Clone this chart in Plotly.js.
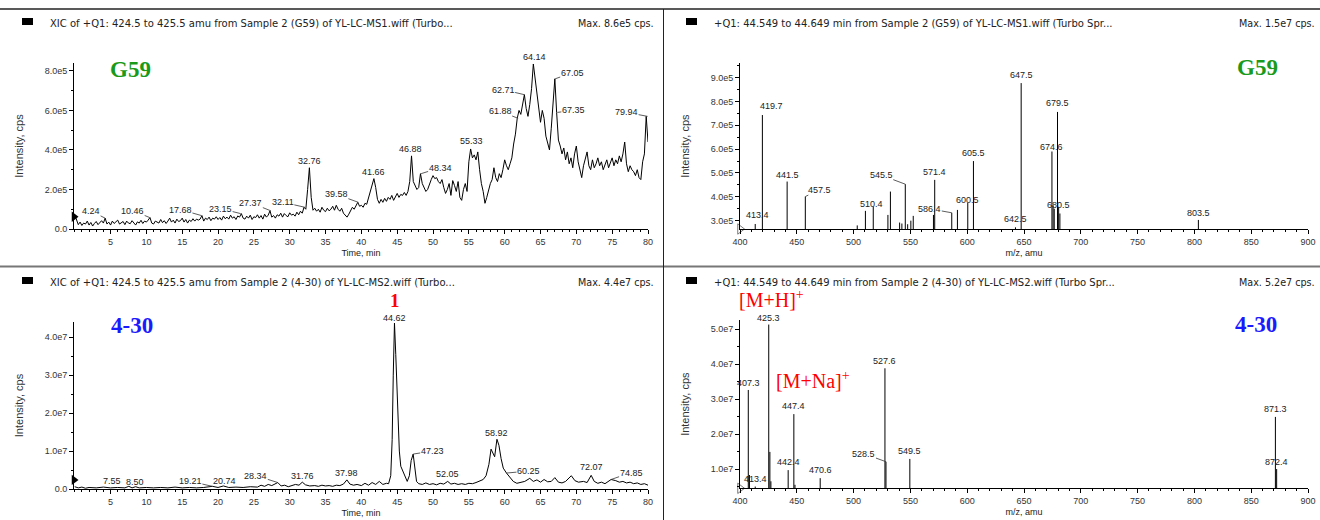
<!DOCTYPE html>
<html><head><meta charset="utf-8">
<script src="https://cdn.plot.ly/plotly-3.0.1.min.js"></script>
<style>html,body{margin:0;padding:0;background:#fff}#chart{width:1320px;height:520px}</style>
</head><body><div id="chart"></div>
<script>
// ================= DATA =================
// Top-left: XIC 424.5-425.5 amu, sample G59 (intensity x1e5 cps), sampled every 0.25 min from 0 min
const xicG59Start = 0;
const xicG59Step = 0.25;
const xicG59Intensity = [
 0.72,0.45,0.22,0.35, 0.18,0.3,0.25,0.4, 0.2,0.33,0.15,0.28, 0.38,0.22,0.3,0.42, 0.3,0.55,0.25,0.35,
 0.2,0.4,0.28,0.35, 0.45,0.25,0.3,0.38, 0.22,0.4,0.3,0.27, 0.42,0.33,0.2,0.36, 0.3,0.44,0.28,0.4,
 0.35,0.45,0.58,0.3, 0.25,0.4,0.35,0.3, 0.48,0.32,0.42,0.28, 0.4,0.55,0.35,0.45, 0.3,0.5,0.38,0.42,
 0.55,0.35,0.48,0.3, 0.45,0.38,0.52,0.4, 0.5,0.45,0.5,0.68, 0.4,0.55,0.48,0.6, 0.42,0.55,0.5,0.62,
 0.48,0.58,0.45,0.65, 0.52,0.6,0.5,0.7, 0.55,0.62,0.48,0.66, 0.6,0.78,0.55,0.5, 0.65,0.55,0.7,0.48,
 0.62,0.58,0.72,0.55, 0.68,0.5,0.75,0.6, 0.7,0.92,0.6,0.68, 0.55,0.72,0.65,0.8, 0.6,0.78,0.68,0.62,
 0.82,0.7,0.75,0.65, 0.85,0.72,0.9,0.8, 1.1,1.0,2.0,3.1, 1.6,0.95,1.05,0.9, 1.0,0.85,1.1,0.95,
 0.88,1.05,0.92,1.0, 1.15,0.95,1.2,1.0, 0.9,1.05,0.8,0.7, 0.6,0.75,0.95,1.1, 1.0,1.2,1.35,1.15,
 1.2,1.1,1.3,1.25, 1.6,2.0,2.3,2.55, 2.1,1.5,1.3,1.5, 1.35,1.55,1.4,1.6, 1.5,1.7,1.45,1.65,
 1.8,1.6,1.75,1.7, 1.85,1.7,1.9,2.4, 3.7,2.4,2.2,2.0, 2.1,2.8,2.3,2.1, 1.9,2.0,2.3,2.5,
 2.7,2.55,2.6,2.4, 2.3,2.5,2.1,1.8, 2.0,2.3,1.7,2.45, 2.2,1.9,2.4,1.6, 1.45,2.0,2.3,1.9,
 3.4,4.05,3.6,3.75, 3.5,3.9,3.0,2.3, 1.9,1.3,1.6,2.0, 2.3,2.5,3.1,2.6, 2.4,2.8,2.6,3.0,
 3.5,3.2,3.0,3.3, 3.6,4.3,4.8,5.6, 6.0,5.8,6.4,6.8, 6.1,5.7,6.3,7.1, 8.35,7.6,7.0,6.2,
 5.4,6.0,5.6,4.7, 4.4,4.0,5.1,6.4, 7.6,5.9,4.5,4.2, 3.8,4.1,3.5,3.9, 3.3,3.6,3.1,3.8,
 4.2,3.4,3.0,2.6, 3.2,3.6,3.9,3.2, 3.0,3.5,3.1,3.3, 3.6,3.2,3.4,3.0, 3.3,3.5,3.1,3.4,
 3.6,3.2,3.5,3.3, 3.7,3.4,3.8,4.4, 3.3,2.9,3.2,3.0, 2.9,2.7,3.0,2.6, 2.5,3.4,3.8,5.7,
 4.4
];
const xicG59PeakTimes   = [4.24,10.46,17.68,23.15,27.37,32.11,32.76,39.58,41.66,46.88,48.34,55.33,61.88,62.71,64.14,67.05,67.35,79.94];
const xicG59PeakHeights = [0.55,0.58,0.68,0.78,0.92,1.1,3.1,1.35,2.55,3.7,2.8,4.05,5.6,6.8,8.35,7.6,5.9,5.7];

// Bottom-left: XIC sample 4-30 (intensity x1e7 cps), [time min, intensity]
const xic430Points = [
 [0,0.06],[0.5,0.03],[1,0.05],[1.5,0.02],[2,0.04],[3,0.03],[4,0.05],[5,0.03],[6,0.04],[7,0.03],
 [7.55,0.07],[8,0.03],[8.5,0.06],[9,0.03],[10,0.04],[11,0.03],[12,0.04],[13,0.03],[14,0.05],[15,0.03],
 [16,0.04],[17,0.03],[18,0.04],[19.21,0.07],[20,0.04],[20.74,0.08],[21.5,0.04],[22.5,0.05],[23.5,0.04],[24.5,0.06],
 [25.5,0.05],[26,0.1],[26.5,0.07],[27,0.12],[27.5,0.09],[28,0.13],[28.34,0.17],[28.8,0.08],[29.3,0.1],[29.8,0.06],
 [30.3,0.09],[30.8,0.12],[31.3,0.1],[31.76,0.18],[32.2,0.11],[32.8,0.08],[33.5,0.09],[34,0.07],[34.5,0.1],[35,0.08],
 [35.5,0.09],[36,0.07],[36.5,0.1],[37,0.09],[37.5,0.13],[37.98,0.24],[38.4,0.13],[38.9,0.1],[39.4,0.12],[40,0.09],
 [40.5,0.15],[41,0.1],[41.5,0.17],[42,0.12],[42.5,0.2],[43,0.12],[43.5,0.15],[43.8,0.14],[44.1,0.35],[44.3,1.3],
 [44.45,3.0],[44.62,4.37],[44.8,3.55],[44.95,2.65],[45.1,1.9],[45.3,1.0],[45.5,0.6],[45.8,0.45],[46.1,0.3],[46.4,0.2],
 [46.7,0.35],[46.95,0.75],[47.23,0.92],[47.45,0.6],[47.7,0.2],[48,0.14],[48.5,0.12],[49,0.16],[49.5,0.12],[50,0.14],
 [50.5,0.11],[51,0.15],[51.5,0.13],[52.05,0.2],[52.5,0.13],[53,0.15],[53.5,0.12],[54,0.14],[54.5,0.12],[55,0.15],
 [55.5,0.14],[56,0.17],[56.5,0.2],[57,0.25],[57.4,0.35],[57.8,0.65],[58.1,1.05],[58.3,0.97],[58.6,0.85],[58.92,1.31],
 [59.2,1.15],[59.5,0.8],[59.8,0.55],[60.25,0.42],[60.7,0.3],[61.2,0.2],[61.7,0.15],[62.2,0.18],[62.8,0.2],[63.5,0.28],
 [64,0.2],[64.5,0.24],[65,0.18],[65.5,0.25],[66,0.19],[66.5,0.2],[67,0.3],[67.5,0.18],[68,0.16],[68.5,0.2],
 [69.3,0.35],[69.8,0.22],[70.3,0.18],[71,0.2],[71.5,0.17],[72.07,0.36],[72.5,0.2],[73,0.15],[73.5,0.18],[74,0.14],
 [74.85,0.25],[75.5,0.22],[76,0.18],[76.5,0.2],[77,0.16],[77.5,0.18],[78,0.14],[78.5,0.16],[79,0.12],[79.5,0.14],[80,0.1]
];
const xic430PeakTimes   = [7.55,8.50,19.21,20.74,28.34,31.76,37.98,44.62,47.23,52.05,58.92,60.25,72.07,74.85];
const xic430PeakHeights = [0.07,0.06,0.07,0.08,0.17,0.18,0.24,4.37,0.92,0.2,1.31,0.42,0.36,0.25];

// Top-right: mass spectrum G59 (intensity x1e5 cps)
const specG59Mz  = [413.4,419.7,441.5,457.5,503.2,510.4,517.3,530.2,532.4,540.5,542.5,545.5,547.6,550.4,552.5,570.3,571.4,586.4,591.4,600.5,605.5,642.5,647.5,674.6,675.6,676.6,679.5,680.5,681.6,803.5];
const specG59Int = [2.86,7.43,4.64,4.01,2.8,3.41,3.59,3.24,4.22,2.92,2.88,4.53,2.85,3.0,3.2,3.24,4.71,3.33,3.45,3.75,5.5,2.72,8.77,5.9,3.62,3.5,7.56,3.57,3.3,3.03];
const specG59Labels = [413.4,419.7,441.5,457.5,510.4,545.5,571.4,586.4,600.5,605.5,642.5,647.5,674.6,679.5,680.5,803.5];

// Bottom-right: mass spectrum 4-30 (intensity x1e7 cps)
const spec430Mz  = [407.3,408.3,413.4,425.3,426.3,427.2,442.4,447.4,448.4,470.6,527.6,528.5,549.5,871.3,872.4];
const spec430Int = [3.26,0.83,0.5,5.13,1.49,0.65,0.97,2.57,0.55,0.74,3.88,1.21,1.29,2.49,1.0];
const spec430Labels = [407.3,413.4,425.3,442.4,447.4,470.6,527.6,528.5,549.5,871.3,872.4];

// Start-of-trace markers (levels)
const startLevels = [0.62, 0.24];

// Tick values / labels
const timeTicks = [5,10,15,20,25,30,35,40,45,50,55,60,65,70,75,80];
const mzTicks = [400,450,500,550,600,650,700,750,800,850,900];
const yTL = [0,2,4,6,8],           yTLText = ['0.0','2.0e5','4.0e5','6.0e5','8.0e5'];
const yTR = [3,4,5,6,7,8,9],       yTRText = ['3.0e5','4.0e5','5.0e5','6.0e5','7.0e5','8.0e5','9.0e5'];
const yBL = [0,1,2,3,4],           yBLText = ['0.0','1.0e7','2.0e7','3.0e7','4.0e7'];
const yBR = [1,2,3,4,5],           yBRText = ['1.0e7','2.0e7','3.0e7','4.0e7','5.0e7'];

// Panel header texts
const panelTitles = [
 'XIC of +Q1: 424.5 to 425.5 amu from Sample 2 (G59) of YL-LC-MS1.wiff (Turbo...',
 '+Q1: 44.549 to 44.649 min from Sample 2 (G59) of YL-LC-MS1.wiff (Turbo Spr...',
 'XIC of +Q1: 424.5 to 425.5 amu from Sample 2 (4-30) of YL-LC-MS2.wiff (Turbo...',
 '+Q1: 44.549 to 44.649 min from Sample 2 (4-30) of YL-LC-MS2.wiff (Turbo Spr...'
];
const panelMax = ['Max. 8.6e5 cps.','Max. 1.5e7 cps.','Max. 4.4e7 cps.','Max. 5.2e7 cps.'];

// ================= STYLE / POSITIONS =================
const W = 1320, H = 520;
const px = v => v / W, py = v => 1 - v / H;
const FONT = "Arial, 'Liberation Sans', sans-serif";
const SERIF = "'Liberation Serif', 'Times New Roman', serif";
const INK = '#222';

const styTL = [
 {lead:1,ax:-14,ay:-7},{lead:1,ax:-17,ay:-7},{lead:1,ax:-21,ay:-6},{lead:1,ax:-20,ay:-5},{lead:1,ax:-20,ay:-8},
 {lead:1,ax:-22,ay:-5},{dy:-7},{lead:1,ax:-22,ay:-8},{dy:-7},{dy:-7},{lead:1,ax:19,ay:-6},{dy:-8},
 {lead:1,ax:-18,ay:-7},{lead:1,ax:-21,ay:-5},{dy:-7},{lead:1,ax:17,ay:-6},{lead:1,ax:16,ay:-2},{lead:1,ax:-21,ay:-4}
];
const styBL = [
 {dx:-17,dy:-5},{dx:-1,dy:-5},{lead:1,ax:-22,ay:-5},{dx:1,dy:-5},{lead:1,ax:-22,ay:-7},{dy:-6},{dy:-7},
 {dy:-5},{lead:1,ax:19,ay:-3},{dy:-7},{dy:-6},{lead:1,ax:22,ay:-2},{dy:-8},{lead:1,ax:20,ay:-7}
];
const styTR = [
 {dx:2,dy:-9},{dx:9,dy:-9},{dy:-7},{lead:1,ax:14,ay:-7},{dx:6,dy:-7},{lead:1,ax:-24,ay:-9},{dy:-8},
 {lead:1,ax:-22,ay:-4},{dy:-3},{dy:-8},{dy:-8},{dy:-8},{dy:-5},{dy:-9},{dy:-2},{dy:-7}
];
const styBR = [
 {dy:-7},{dy:-8},{dy:-7},{dy:-8},{dy:-8},{dy:-8},{dy:-7},{lead:1,ax:-22,ay:-8},{dy:-8},{dy:-8},{dy:-7}
];

const rangeL = [-0.1, 80], rangeR = [400, 900];
const rTL = [0, 8.4], rTR = [2.65, 9.6], rBL = [0, 4.4], rBR = [0.45, 5.26];

// ================= BUILD =================
function sticks(mz, inten) {
  const x = [], y = [];
  mz.forEach((m, i) => { x.push(m, m, null); y.push(0, inten[i], null); });
  return {x, y};
}
function peakLabel(xa, ya, x, y, text, s) {
  const base = {xref: xa, yref: ya, x: x, y: y, text: text,
    font: {family: FONT, size: 9, color: INK}, borderpad: 0};
  if (s.lead) {
    return Object.assign(base, {showarrow: true, arrowhead: 0, arrowwidth: 0.8,
      arrowcolor: '#333', ax: s.ax, ay: s.ay, standoff: 0, startstandoff: 0});
  }
  return Object.assign(base, {showarrow: false, xanchor: 'center', yanchor: 'middle',
    xshift: s.dx || 0, yshift: -(s.dy || 0)});
}

const sTR = sticks(specG59Mz, specG59Int);
const sBR = sticks(spec430Mz, spec430Int);

const lineStyle = {color: '#000', width: 1};
const traces = [
  {type: 'scatter', mode: 'lines', x0: xicG59Start, dx: xicG59Step, y: xicG59Intensity,
   xaxis: 'x', yaxis: 'y', line: lineStyle, hoverinfo: 'skip'},
  {type: 'scatter', mode: 'lines', x: sTR.x, y: sTR.y, xaxis: 'x2', yaxis: 'y2',
   line: lineStyle, connectgaps: false, hoverinfo: 'skip'},
  {type: 'scatter', mode: 'lines', x: xic430Points.map(p => p[0]), y: xic430Points.map(p => p[1]),
   xaxis: 'x3', yaxis: 'y3', line: lineStyle, hoverinfo: 'skip'},
  {type: 'scatter', mode: 'lines', x: sBR.x, y: sBR.y, xaxis: 'x4', yaxis: 'y4',
   line: lineStyle, connectgaps: false, hoverinfo: 'skip'},
  // start markers
  {type: 'scatter', mode: 'markers', x: [rangeL[0]], y: [startLevels[0]], xaxis: 'x', yaxis: 'y',
   marker: {symbol: 'triangle-right', size: 9, color: '#000'}, cliponaxis: false, hoverinfo: 'skip'},
  {type: 'scatter', mode: 'markers', x: [rangeL[0]], y: [startLevels[1]], xaxis: 'x3', yaxis: 'y3',
   marker: {symbol: 'triangle-right', size: 9, color: '#000'}, cliponaxis: false, hoverinfo: 'skip'},
  {type: 'scatter', mode: 'markers', x: [rangeR[0]], y: [rTR[0]], xaxis: 'x2', yaxis: 'y2',
   marker: {symbol: 'triangle-right-open', size: 9, color: '#777', line: {width: 1}}, cliponaxis: false, hoverinfo: 'skip'},
  {type: 'scatter', mode: 'markers', x: [rangeR[0]], y: [rBR[0]], xaxis: 'x4', yaxis: 'y4',
   marker: {symbol: 'triangle-right-open', size: 9, color: '#777', line: {width: 1}}, cliponaxis: false, hoverinfo: 'skip'}
];

const tickFont = {family: FONT, size: 9, color: '#333'};
function xAxis(dom, range, ticks, anchor, minorStep, title) {
  return {domain: dom, range: range, anchor: anchor, tickmode: 'array', tickvals: ticks,
    showline: true, linecolor: '#000', linewidth: 1, ticks: 'outside', ticklen: 4, tickcolor: '#000',
    tickwidth: 1, showgrid: false, zeroline: false, tickfont: tickFont, fixedrange: true,
    minor: {tickmode: 'linear', tick0: 0, dtick: minorStep, ticks: 'outside', ticklen: 2, tickcolor: '#000', showgrid: false},
    title: {text: title, font: {family: FONT, size: 9, color: INK}, standoff: 3}};
}
function yAxis(dom, range, vals, text, anchor, minorStep) {
  return {domain: dom, range: range, anchor: anchor, tickmode: 'array', tickvals: vals, ticktext: text,
    showline: true, linecolor: '#000', linewidth: 1, ticks: 'outside', ticklen: 4, tickcolor: '#000',
    tickwidth: 1, showgrid: false, zeroline: false, tickfont: tickFont, fixedrange: true,
    minor: {tickmode: 'linear', tick0: 0, dtick: minorStep, ticks: 'outside', ticklen: 2, tickcolor: '#000', showgrid: false},
    title: {text: 'Intensity, cps', font: {family: FONT, size: 11, color: '#333'}, standoff: 18}};
}

const domL = [px(74), px(648)], domR = [px(740), px(1308)];
const layout = {
  width: W, height: H, margin: {l: 0, r: 0, t: 0, b: 0}, showlegend: false,
  paper_bgcolor: '#fff', plot_bgcolor: '#fff',
  xaxis:  xAxis(domL, rangeL, timeTicks, 'y', 1, 'Time, min'),
  yaxis:  yAxis([py(229), py(63)], rTL, yTL, yTLText, 'x', 1),
  xaxis2: xAxis(domR, rangeR, mzTicks, 'y2', 10, 'm/z, amu'),
  yaxis2: yAxis([py(229), py(63.3)], rTR, yTR, yTRText, 'x2', 0.5),
  xaxis3: xAxis(domL, rangeL, timeTicks, 'y3', 1, 'Time, min'),
  yaxis3: yAxis([py(489), py(322)], rBL, yBL, yBLText, 'x3', 0.5),
  xaxis4: xAxis(domR, rangeR, mzTicks, 'y4', 10, 'm/z, amu'),
  yaxis4: yAxis([py(488.3), py(320)], rBR, yBR, yBRText, 'x4', 0.5),
  shapes: [], annotations: []
};

// panel separators and header squares
const sep = {type: 'line', xref: 'paper', yref: 'paper'};
layout.shapes.push(Object.assign({}, sep, {x0: 0, x1: 1, y0: py(9), y1: py(9), line: {color: '#222', width: 1.5}}));
layout.shapes.push(Object.assign({}, sep, {x0: 0, x1: 1, y0: py(266.5), y1: py(266.5), line: {color: '#777', width: 2}}));
layout.shapes.push(Object.assign({}, sep, {x0: px(663.5), x1: px(663.5), y0: py(9), y1: 0, line: {color: '#222', width: 1}}));
const headerPos = [[22, 18], [686, 18], [22, 277], [686, 277]];
headerPos.forEach((p, i) => {
  layout.shapes.push({type: 'rect', xref: 'paper', yref: 'paper', x0: px(p[0]), x1: px(p[0] + 11),
    y0: py(p[1] + 7), y1: py(p[1]), fillcolor: '#000', line: {width: 0}});
  layout.annotations.push({xref: 'paper', yref: 'paper', x: px(p[0] + 27), y: py(p[1] + 5.5),
    xanchor: 'left', yanchor: 'middle', showarrow: false, text: panelTitles[i], borderpad: 0,
    font: {family: "'DejaVu Sans', sans-serif", size: 10, color: INK}});
  layout.annotations.push({xref: 'paper', yref: 'paper', x: px(p[0] < 600 ? 655 : 1316), y: py(p[1] + 5.5),
    xanchor: 'right', yanchor: 'middle', showarrow: false, text: panelMax[i], borderpad: 0,
    font: {family: "'DejaVu Sans', sans-serif", size: 9.6, color: INK}});
});

// peak labels
xicG59PeakTimes.forEach((t, i) => layout.annotations.push(
  peakLabel('x', 'y', t, xicG59PeakHeights[i], t.toFixed(2), styTL[i])));
xic430PeakTimes.forEach((t, i) => layout.annotations.push(
  peakLabel('x3', 'y3', t, xic430PeakHeights[i], t.toFixed(2), styBL[i])));
specG59Labels.forEach((m, i) => layout.annotations.push(
  peakLabel('x2', 'y2', m, specG59Int[specG59Mz.indexOf(m)], m.toFixed(1), styTR[i])));
spec430Labels.forEach((m, i) => layout.annotations.push(
  peakLabel('x4', 'y4', m, spec430Int[spec430Mz.indexOf(m)], m.toFixed(1), styBR[i])));

// big sample / compound labels
function big(xp, yp, text, color, size, bold, h) {
  const a = {xref: 'paper', yref: 'paper', x: px(xp), y: py(yp), xanchor: 'center', yanchor: 'middle',
    showarrow: false, text: bold ? '<b>' + text + '</b>' : text,
    font: {family: SERIF, size: size, color: color}, borderpad: 0};
  if (h) a.height = h;
  return a;
}
layout.annotations.push(big(130, 70, 'G59', '#1a9a1a', 23, true));
layout.annotations.push(big(1257, 67, 'G59', '#1a9a1a', 23, true));
layout.annotations.push(big(132, 325, '4-30', '#1a1aff', 23, true));
layout.annotations.push(big(1256, 324, '4-30', '#1a1aff', 23, true));
layout.annotations.push(big(395, 300, '1', '#ff0000', 19, true, 18));
layout.annotations.push(big(771, 299, '[M+H]<sup>+</sup>', '#ff0000', 20, false));
layout.annotations.push(big(813, 380, '[M+Na]<sup>+</sup>', '#ff0000', 20, false));

Plotly.newPlot('chart', traces, layout, {displayModeBar: false, staticPlot: true});
</script></body></html>
